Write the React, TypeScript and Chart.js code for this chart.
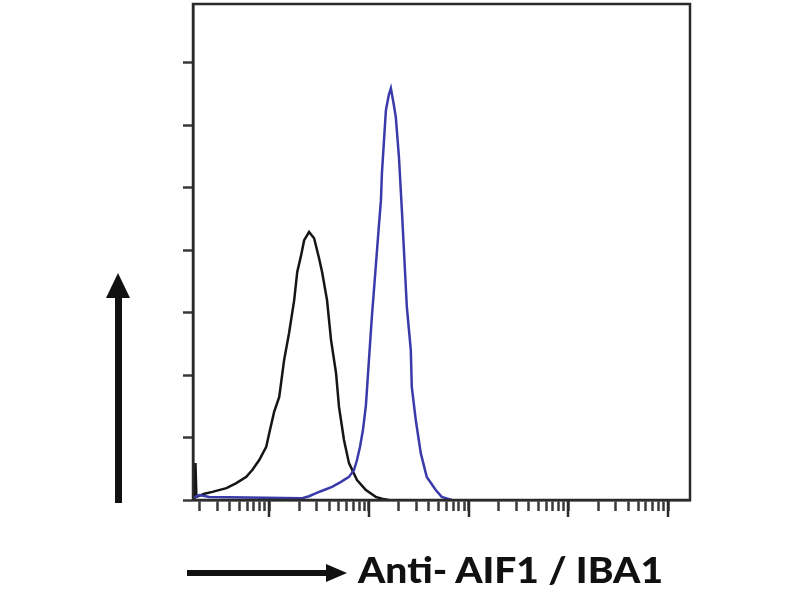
import React, { useEffect, useRef } from "react";
import { Chart, registerables } from "chart.js";

Chart.register(...registerables);

// Axis ranges (log fluorescence on x, counts on y)
const xMin = 1.72;
const xMax = 166000;
const yMin = 0;
const yMax = 794;
const yTickValues = [0, 100, 200, 300, 400, 500, 600, 700];
const xDecades = [1, 10, 100, 1000, 10000, 100000];
const xMultiples = [1, 2, 3, 4, 5, 6, 7, 8, 9];

// Isotype / negative control (black)
const controlX = [1.7, 1.78, 1.82, 1.86, 2.24, 2.69, 3.72, 4.68, 5.89, 6.76, 7.94, 9.33, 10, 11.2, 12.6, 14.1, 15.8, 17.8, 19.1, 20.9, 22.4, 25.1, 28.2, 31.6, 33.9, 38.0, 41.7, 46.8, 50.1, 56.2, 63.1, 75.9, 93.3, 117, 135, 158];
const controlY = [0, 0, 59, 5, 10, 13, 19, 27, 37, 48, 64, 85, 107, 141, 165, 224, 267, 320, 365, 392, 416, 429, 419, 387, 365, 320, 256, 203, 149, 96, 59, 32, 16, 5, 2, 0];

// Anti-AIF1 / IBA1 stained (blue)
const stainedX = [1.7, 2.0, 2.51, 21.4, 25.1, 29.5, 35.5, 42.7, 52.5, 63.1, 70.8, 75.9, 81.3, 87.1, 93.3, 100, 107, 117, 126, 132, 135, 141, 148, 158, 166, 178, 186, 200, 214, 240, 263, 269, 295, 331, 380, 468, 537, 676];
const stainedY = [3, 8, 5, 3, 6, 11, 16, 21, 29, 37, 48, 64, 85, 112, 152, 224, 293, 373, 440, 480, 523, 571, 624, 648, 659, 632, 613, 549, 464, 309, 240, 181, 128, 75, 37, 16, 5, 0];

const axisTitle = "Anti- AIF1 / IBA1";

const toPoints = (xs: number[], ys: number[]) => xs.map((x, i) => ({ x, y: ys[i] }));

const framePlugin = {
  id: "frameAndMajorTicks",
  afterDraw(chart: any) {
    const { ctx, chartArea: a, scales } = chart;
    ctx.save();
    ctx.strokeStyle = "#2a2a2a";
    ctx.lineWidth = 2.5;
    ctx.strokeRect(a.left, a.top, a.right - a.left, a.bottom - a.top);
    const xs = scales.x;
    xDecades.forEach((d) => {
      if (d >= xMin && d <= xMax) {
        const px = Math.round(xs.getPixelForValue(d));
        ctx.beginPath();
        ctx.moveTo(px, a.bottom);
        ctx.lineTo(px, a.bottom + 17);
        ctx.stroke();
      }
    });
    ctx.restore();
  },
};

export default function App() {
  const canvasRef = useRef<HTMLCanvasElement | null>(null);

  useEffect(() => {
    if (!canvasRef.current) return;
    const minorTicks: number[] = [];
    xDecades.forEach((d) =>
      xMultiples.forEach((m) => {
        const v = d * m;
        if (v >= xMin && v <= xMax) minorTicks.push(v);
      })
    );
    const chart = new Chart(canvasRef.current, {
      type: "scatter",
      data: {
        datasets: [
          {
            label: "Anti- AIF1 / IBA1",
            data: toPoints(stainedX, stainedY),
            showLine: true,
            borderColor: "#3a3aaa",
            borderWidth: 2.5,
            pointRadius: 0,
            tension: 0,
          },
          {
            label: "Control",
            data: toPoints(controlX, controlY),
            showLine: true,
            borderColor: "#151515",
            borderWidth: 2.5,
            pointRadius: 0,
            tension: 0,
          },
        ],
      },
      options: {
        animation: false,
        responsive: false,
        devicePixelRatio: 1,
        layout: { padding: { left: 183, right: 110, top: 4, bottom: 89 } },
        plugins: { legend: { display: false }, tooltip: { enabled: false } },
        scales: {
          x: {
            type: "logarithmic",
            min: xMin,
            max: xMax,
            afterBuildTicks: (scale: any) => {
              scale.ticks = minorTicks.map((v) => ({ value: v }));
            },
            afterFit: (scale: any) => {
              scale.height = 11;
            },
            ticks: { display: false },
            grid: {
              display: true,
              drawOnChartArea: false,
              drawTicks: true,
              tickLength: 11,
              tickWidth: 2.5,
              tickColor: "#3a3a3a",
            },
            border: { display: true, color: "#2a2a2a", width: 2.5 },
          },
          y: {
            type: "linear",
            min: yMin,
            max: yMax,
            afterBuildTicks: (scale: any) => {
              scale.ticks = yTickValues.map((v) => ({ value: v }));
            },
            afterFit: (scale: any) => {
              scale.width = 10;
            },
            ticks: { display: false },
            grid: {
              display: true,
              drawOnChartArea: false,
              drawTicks: true,
              tickLength: 10,
              tickWidth: 2.5,
              tickColor: "#3a3a3a",
            },
            border: { display: true, color: "#2a2a2a", width: 2.5 },
          },
        },
      },
      plugins: [framePlugin],
    });
    return () => chart.destroy();
  }, []);

  return (
    <div style={{ position: "absolute", left: 0, top: 0, width: 800, height: 600, background: "#fff" }}>
      <canvas ref={canvasRef} width={800} height={600} style={{ position: "absolute", left: 0, top: 0 }} />
      <svg width={800} height={600} style={{ position: "absolute", left: 0, top: 0, pointerEvents: "none" }}>
        <rect x={115} y={296} width={7} height={207} fill="#111" />
        <polygon points="106,298 130,298 118,273" fill="#111" />
        <rect x={187} y={570} width={140} height={6} fill="#111" />
        <polygon points="326,564 326,582 347,573" fill="#111" />
        <text
          x={358}
          y={583}
          fontFamily="Lato, 'Open Sans', sans-serif"
          fontWeight="900"
          fontSize={36}
          fill="#111"
          textLength={305}
          lengthAdjust="spacingAndGlyphs"
        >
          {axisTitle}
        </text>
      </svg>
    </div>
  );
}
